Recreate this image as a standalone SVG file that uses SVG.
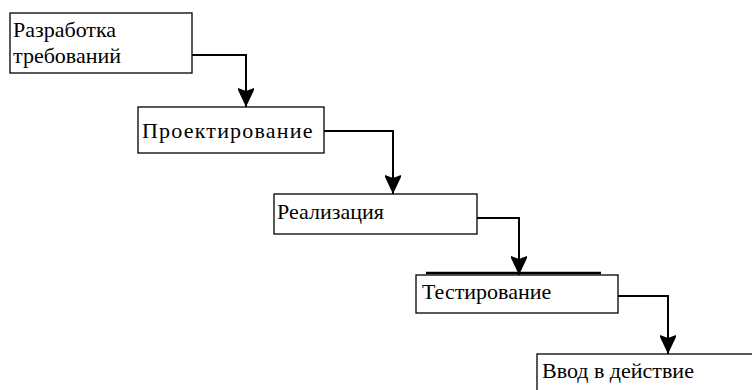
<svg xmlns="http://www.w3.org/2000/svg" width="752" height="390" viewBox="0 0 752 390">
<style>
.box{fill:#fff;stroke:#000;stroke-width:1.3}
.con{fill:none;stroke:#000;stroke-width:2;marker-end:url(#arr)}
</style>
<defs>
<marker id="arr" markerUnits="userSpaceOnUse" viewBox="0 0 19 16" refX="19" refY="8" markerWidth="19" markerHeight="16" orient="auto">
<path d="M0,0 L2,0 L19,8 L2,16 L0,16 L3,8 z" fill="#000"/>
</marker>
<clipPath id="c2"><rect x="138" y="106" width="176" height="47"/></clipPath>
</defs>
<rect width="752" height="390" fill="#fff"/>
<g id="connectors">
<path class="con" d="M192,55 H246 V107"/>
<path class="con" d="M324,131 H393 V194"/>
<path class="con" d="M477,218 H519 V275"/>
<path class="con" d="M618,296 H668 V354"/>
</g>
<g id="n1">
<rect class="box" x="10" y="13" width="182" height="60"/>
<text style="font-family:'Liberation Serif',serif;font-size:22px" x="13" y="37">Разработка</text>
<text style="font-family:'Liberation Serif',serif;font-size:22px" x="13" y="63">требований</text>
</g>
<g id="n2">
<rect class="box" x="138" y="107" width="186" height="46"/>
<g clip-path="url(#c2)">
<text style="font-family:'Liberation Serif',serif;font-size:22px;letter-spacing:1.2px" x="142" y="138">Проектирование</text>
</g>
</g>
<g id="n3">
<rect class="box" x="274" y="194" width="203" height="40"/>
<text style="font-family:'Liberation Serif',serif;font-size:22px" x="277" y="219">Реализация</text>
</g>
<g id="n4">
<rect class="box" x="416" y="275" width="202" height="38"/>
<line x1="426" y1="273" x2="601" y2="273" stroke="#000" stroke-width="2.5"/>
<text style="font-family:'Liberation Serif',serif;font-size:22px" x="422" y="299">Тестирование</text>
</g>
<g id="n5">
<rect class="box" x="537" y="354" width="300" height="100"/>
<text style="font-family:'Liberation Serif',serif;font-size:22px" x="542" y="378">Ввод в действие</text>
</g>
</svg>
